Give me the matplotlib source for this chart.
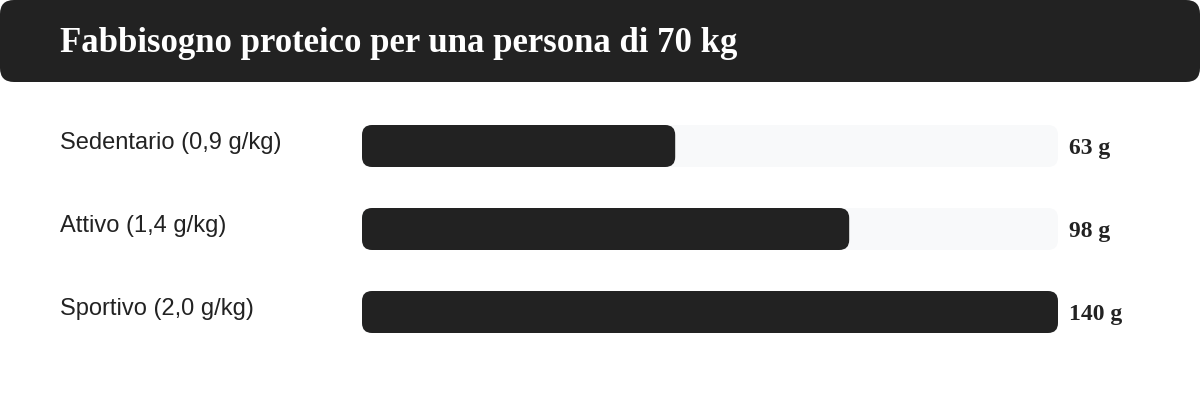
import matplotlib.pyplot as plt
from matplotlib.patches import FancyBboxPatch

# data
labels = ["Sedentario (0,9 g/kg)", "Attivo (1,4 g/kg)", "Sportivo (2,0 g/kg)"]
values = [63, 98, 140]
value_labels = ["63 g", "98 g", "140 g"]
vmax = 140
title = "Fabbisogno proteico per una persona di 70 kg"

dark = "#222222"
track = "#f8f9fa"

W, H = 1200, 400
fig = plt.figure(figsize=(W / 100, H / 100), dpi=100)
fig.patch.set_facecolor("white")

# background axes in pixel units, for the header
bg = fig.add_axes([0, 0, 1, 1])
bg.set_xlim(0, W)
bg.set_ylim(H, 0)
bg.axis("off")
bg.add_patch(FancyBboxPatch((0, 0), W, 82, boxstyle="round,pad=0,rounding_size=14",
                            fc=dark, ec="none"))
bg.text(60, 43, title, color="white", fontsize=25, fontweight="bold",
        family="Liberation Serif", va="center", ha="left")

# bar axes: track spans x 362..1058 px, rows 83 px apart
left, right = 362, 1058
top, bottom = 104.5, 353.5
ax = fig.add_axes([left / W, 1 - bottom / H, (right - left) / W, (bottom - top) / H])
ax.set_xlim(0, vmax)
ax.set_ylim(len(values), 0)
ax.axis("off")

bar_h = 42 / 83
px_x = vmax / (right - left)
px_y = 1 / 83
r = 10
rs = r * px_x
aspect = (r * px_y) / rs

for i, (lab, v, vl) in enumerate(zip(labels, values, value_labels)):
    y0 = i + 0.5 - bar_h / 2
    ax.add_patch(FancyBboxPatch((0, y0), vmax, bar_h,
                                boxstyle=f"round,pad=0,rounding_size={rs}",
                                mutation_aspect=aspect, fc=track, ec="none"))
    ax.add_patch(FancyBboxPatch((0, y0), v, bar_h,
                                boxstyle=f"round,pad=0,rounding_size={rs}",
                                mutation_aspect=aspect, fc=dark, ec="none"))
    ax.annotate(vl, (vmax, i + 0.5), xytext=(8, -2), textcoords="offset points",
                va="center", ha="left", fontsize=17, fontweight="bold",
                family="Liberation Serif", color=dark)
    bg.text(60, top + (i + 0.5) * 83 - 3, lab, fontsize=17, family="Liberation Sans",
            color=dark, va="center", ha="left")

fig.savefig("out.png", dpi=100)
